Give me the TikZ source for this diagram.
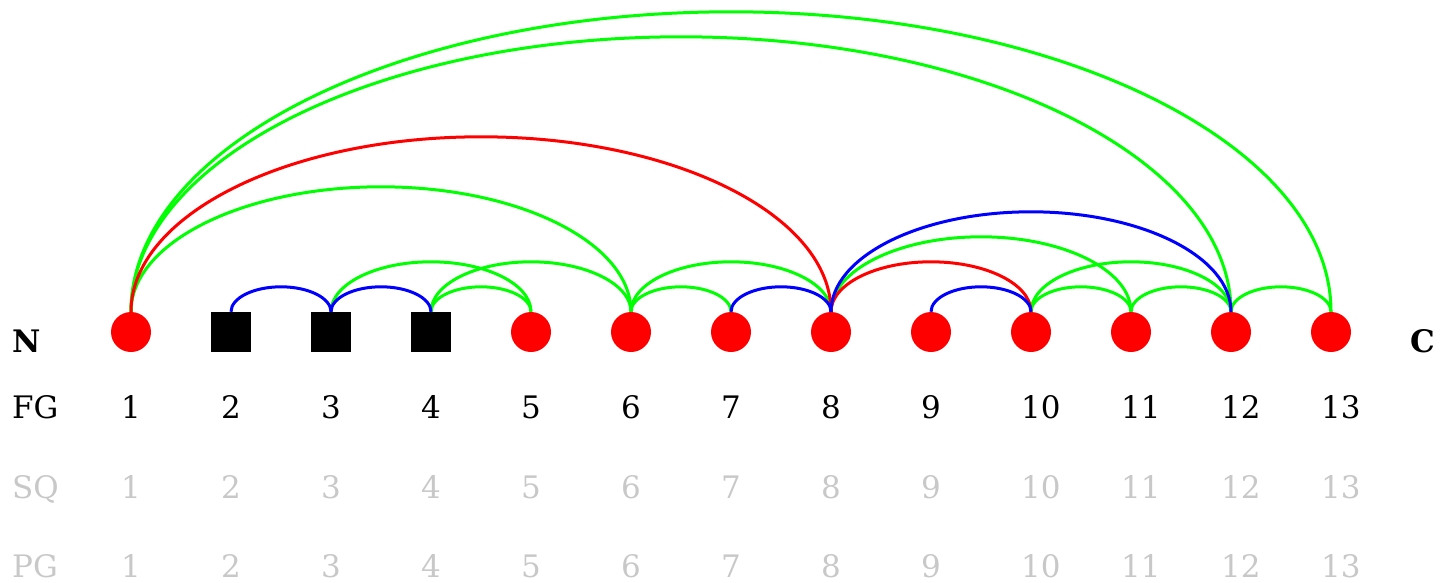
\documentclass[tikz,border=0pt]{standalone}
\usepackage{fontspec}
\setmainfont{DejaVu Serif}
\definecolor{lgray}{RGB}{200,200,200}
\definecolor{xgreen}{RGB}{0,255,0}
\definecolor{xblue}{RGB}{0,0,255}
\definecolor{xred}{RGB}{255,0,0}
\begin{document}
\begin{tikzpicture}[x=1pt,y=-1pt,
  res/.style={circle,fill=xred,minimum size=40pt,inner sep=0pt},
  mod/.style={rectangle,fill=black,minimum size=40pt,inner sep=0pt},
  lbl/.style={anchor=base west,inner sep=0pt,text depth=0pt,font=\fontsize{31}{36}\selectfont},
  boldlbl/.style={lbl,font=\fontsize{31}{36}\selectfont\bfseries},
  faint/.style={lbl,text=lgray},
  link/.style={to path={.. controls +(0,-13.8075*#1) and +(-27.615*#1,0) .. +(50*#1,-25*#1) .. controls +(27.615*#1,0) and +(0,-13.8075*#1) .. (\tikztotarget)}},
  gl/.style={draw=xgreen,line width=3pt},
  bl/.style={draw=xblue,line width=3pt},
  rl/.style={draw=xred,line width=3pt}
]
\useasboundingbox (0,0) rectangle (1440,582);
% residues
\foreach \i/\s in {1/res,2/mod,3/mod,4/mod,5/res,6/res,7/res,8/res,9/res,10/res,11/res,12/res,13/res}
  \node[\s] (n\i) at ({131+100*(\i-1)},332) {};
% row labels
\node[boldlbl] (lN) at (12,352) {N};
\node[boldlbl] (lC) at (1410,352) {C};
\node[lbl] (lFG) at (12,418) {FG};
\node[faint] (lSQ) at (12,498) {SQ};
\node[faint] (lPG) at (12,577) {PG};
\foreach \i in {1,...,13} {
  \node[lbl] (fg\i) at ({121+100*(\i-1)},418) {\i};
  \node[faint] (sq\i) at ({121+100*(\i-1)},498) {\i};
  \node[faint] (pg\i) at ({121+100*(\i-1)},577) {\i};
}
% green links
\draw[gl] (n1.north) to[link=12] (n13.north);
\draw[gl] (n1.north) to[link=11] (n12.north);
\draw[gl] (n1.north) to[link=5] (n6.north);
\draw[gl] (n3.north) to[link=2] (n5.north);
\draw[gl] (n4.north) to[link=2] (n6.north);
\draw[gl] (n4.north) to[link=1] (n5.north);
\draw[gl] (n6.north) to[link=1] (n7.north);
\draw[gl] (n6.north) to[link=2] (n8.north);
\draw[gl] (n8.north) to[link=3] (n11.north);
\draw[gl] (n10.north) to[link=1] (n11.north);
\draw[gl] (n10.north) to[link=2] (n12.north);
\draw[gl] (n11.north) to[link=1] (n12.north);
\draw[gl] (n12.north) to[link=1] (n13.north);
% red links
\draw[rl] (n1.north) to[link=7] (n8.north);
\draw[rl] (n8.north) to[link=2] (n10.north);
% blue links
\draw[bl] (n2.north) to[link=1] (n3.north);
\draw[bl] (n3.north) to[link=1] (n4.north);
\draw[bl] (n7.north) to[link=1] (n8.north);
\draw[bl] (n8.north) to[link=4] (n12.north);
\draw[bl] (n9.north) to[link=1] (n10.north);
\end{tikzpicture}
\end{document}
